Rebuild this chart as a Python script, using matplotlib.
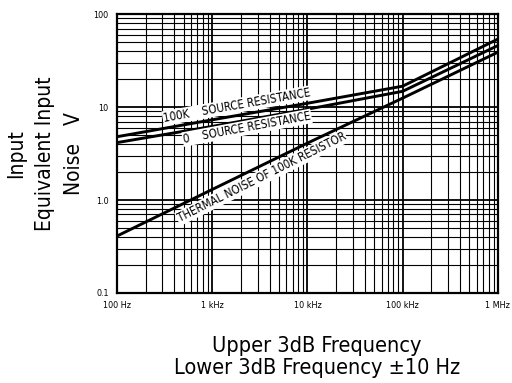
import matplotlib
matplotlib.use('Agg')
import matplotlib.pyplot as plt
from matplotlib import font_manager
import numpy as np

# pick a condensed face if one is around
cond = [f.name for f in font_manager.fontManager.ttflist if 'Condensed' in f.fname or 'Narrow' in f.fname]
fam = cond[0] if cond else 'DejaVu Sans'
plt.rcParams['font.family'] = [fam, 'DejaVu Sans']
plt.rcParams['font.stretch'] = 'condensed'

# frequency points (Hz) and noise (uV)
freq = [100, 1e3, 1e4, 1e5, 1e6]
src_100k = [4.8, 7.3, 11.0, 16.8, 54]
src_0 = [4.15, 6.2, 9.5, 14.8, 46]
thermal = [0.41, 1.3, 4.1, 12.5, 39]

xticks = [100, 1e3, 1e4, 1e5, 1e6]
xtick_labels = ['100 Hz', '1 kHz', '10 kHz', '100 kHz', '1 MHz']
yticks = [0.1, 1, 10, 100]
ytick_labels = ['0.1', '1.0', '10', '100']

fig = plt.figure(figsize=(5.12, 3.83), dpi=100)
ax = fig.add_axes([0.2285, 0.235, 0.744, 0.728])
ax.set_xscale('log')
ax.set_yscale('log')
ax.set_xlim(100, 1e6)
ax.set_ylim(0.1, 100)

ax.grid(which='major', color='black', linewidth=1.3)
ax.grid(which='minor', color='black', linewidth=0.8)
ax.set_axisbelow(True)

for ys in (src_100k, src_0, thermal):
    ax.plot(freq, ys, color='black', linewidth=2.1, solid_capstyle='butt', zorder=3)

box = dict(facecolor='white', edgecolor='none', pad=0.6)
ax.text(1820, 10.4, '100K    SOURCE RESISTANCE', rotation=10, ha='center', va='center',
        fontsize=8.3, bbox=box, zorder=4, rotation_mode='anchor')
ax.text(2320, 6.0, '0    SOURCE RESISTANCE', rotation=10.5, ha='center', va='center',
        fontsize=8.3, bbox=box, zorder=4, rotation_mode='anchor')
ax.text(3300, 1.75, 'THERMAL NOISE OF 100K RESISTOR', rotation=26.5, ha='center', va='center',
        fontsize=8.3, bbox=box, zorder=4, rotation_mode='anchor')

ax.set_xticks(xticks)
ax.set_xticklabels(xtick_labels, fontsize=6.5)
ax.set_yticks(yticks)
ax.set_yticklabels(ytick_labels, fontsize=6.5)
ax.tick_params(which='both', length=0, pad=6)
for s in ax.spines.values():
    s.set_linewidth(1.6)

fig.text(0.088, 0.598, 'Input\nEquivalent Input\nNoise   V', rotation=90, ha='center', va='center',
         fontsize=15, linespacing=1.55)
fig.text(0.619, 0.069, 'Upper 3dB Frequency\nLower 3dB Frequency \u00b110 Hz', ha='center', va='center',
         fontsize=15.6, linespacing=1.13)

fig.savefig('out.png', dpi=100)
